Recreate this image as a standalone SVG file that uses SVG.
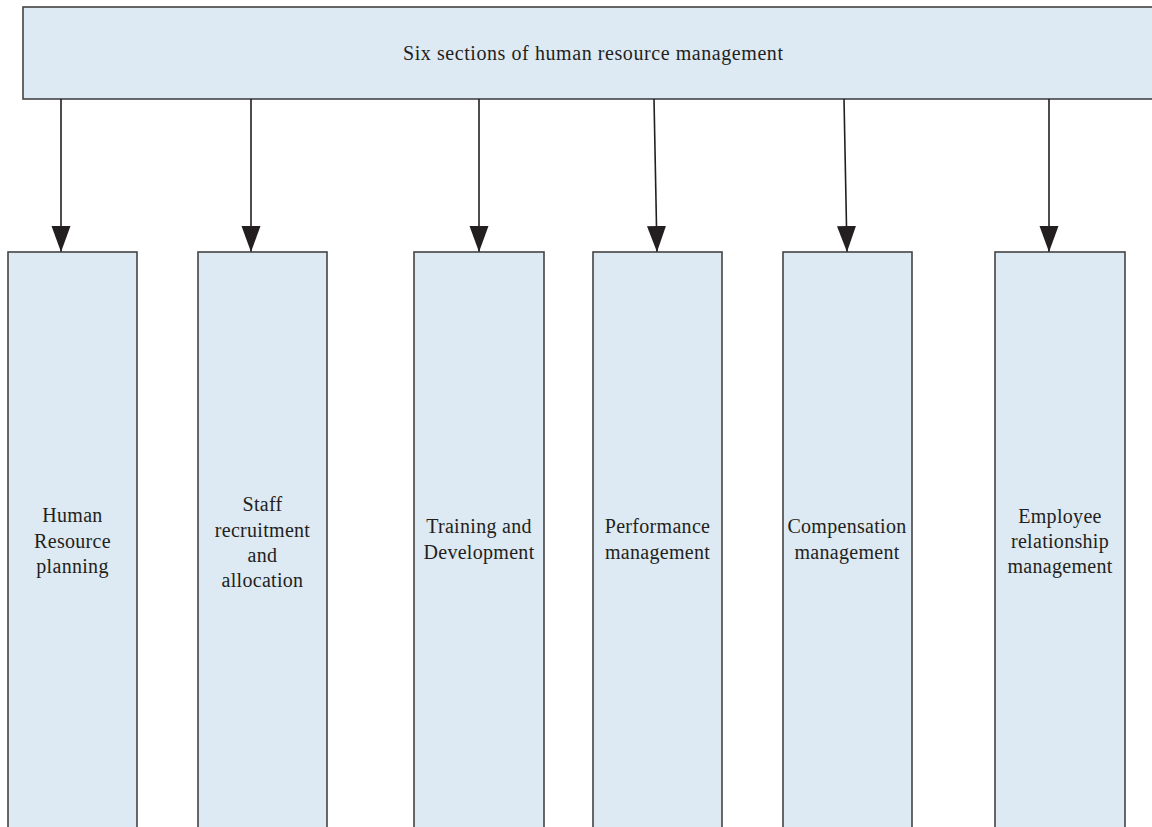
<svg xmlns="http://www.w3.org/2000/svg" width="1152" height="827" viewBox="0 0 1152 827">
  <defs>
    <style>
      .box { fill: #dde9f3; stroke: #444444; stroke-width: 1.6; }
      .lbl { font-family: "Liberation Serif", "DejaVu Serif", serif; font-size: 20px; fill: #231f20; text-anchor: middle; letter-spacing: 0.3px; }
      .title { font-family: "Liberation Serif", "DejaVu Serif", serif; font-size: 20px; fill: #231f20; text-anchor: middle; }
      .conn { stroke: #231f20; stroke-width: 1.6; fill: none; }
    </style>
    <marker id="arrow" markerUnits="userSpaceOnUse" markerWidth="27" markerHeight="20" refX="26" refY="9.5" orient="auto">
      <path d="M0,0 L26,9.5 L0,19 Z" fill="#231f20"/>
    </marker>
  </defs>
  <rect width="1152" height="827" fill="#ffffff"/>

  <g id="top">
    <rect class="box" x="23" y="7" width="1140" height="92"/>
    <text class="title" x="593" y="60" textLength="380" lengthAdjust="spacing">Six sections of human resource management</text>
  </g>

  <g id="connectors">
    <path class="conn" d="M61,99 L61,252" marker-end="url(#arrow)"/>
    <path class="conn" d="M251,99 L251,252" marker-end="url(#arrow)"/>
    <path class="conn" d="M479,99 L479,252" marker-end="url(#arrow)"/>
    <path class="conn" d="M654,99 L657,252" marker-end="url(#arrow)"/>
    <path class="conn" d="M844,99 L847,252" marker-end="url(#arrow)"/>
    <path class="conn" d="M1049,99 L1049,252" marker-end="url(#arrow)"/>
  </g>

  <g id="node1">
    <rect class="box" x="8" y="252" width="129" height="590"/>
    <text class="lbl" x="72.5" y="522">Human</text>
    <text class="lbl" x="72.5" y="548">Resource</text>
    <text class="lbl" x="72.5" y="573">planning</text>
  </g>
  <g id="node2">
    <rect class="box" x="198" y="252" width="129" height="590"/>
    <text class="lbl" x="262.5" y="511">Staff</text>
    <text class="lbl" x="262.5" y="537">recruitment</text>
    <text class="lbl" x="262.5" y="562">and</text>
    <text class="lbl" x="262.5" y="587">allocation</text>
  </g>
  <g id="node3">
    <rect class="box" x="414" y="252" width="130" height="590"/>
    <text class="lbl" x="479" y="533">Training and</text>
    <text class="lbl" x="479" y="559">Development</text>
  </g>
  <g id="node4">
    <rect class="box" x="593" y="252" width="129" height="590"/>
    <text class="lbl" x="657.5" y="533">Performance</text>
    <text class="lbl" x="657.5" y="559">management</text>
  </g>
  <g id="node5">
    <rect class="box" x="783" y="252" width="129" height="590"/>
    <text class="lbl" x="847" y="533">Compensation</text>
    <text class="lbl" x="847" y="559">management</text>
  </g>
  <g id="node6">
    <rect class="box" x="995" y="252" width="130" height="590"/>
    <text class="lbl" x="1060" y="523">Employee</text>
    <text class="lbl" x="1060" y="548">relationship</text>
    <text class="lbl" x="1060" y="573">management</text>
  </g>
</svg>
